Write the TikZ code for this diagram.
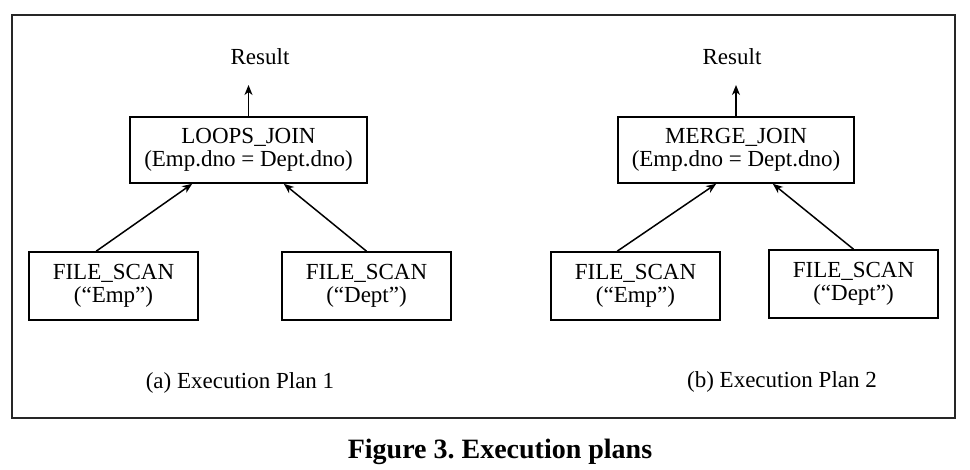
\documentclass[tikz,border=0pt]{standalone}
\usepackage{fontspec}
\setmainfont{Liberation Serif}
\usetikzlibrary{arrows.meta}
\frenchspacing
\begin{document}
\begin{tikzpicture}[x=1pt,y=-1pt,
  opbox/.style={draw=black,line width=1.6pt,minimum width=#1,minimum height=66pt,inner sep=0pt,align=center,font=\fontsize{23}{23}\selectfont},
  opbox/.default=169pt,
  lbl/.style={inner sep=0pt,font=\fontsize{23}{23}\selectfont},
  flow/.style={line width=1.5pt,-{Stealth[length=10pt,width=8pt,inset=3pt]}}]
\useasboundingbox (0,0) rectangle (970,470);
\node[draw=black!85,line width=1.8pt,minimum width=943pt,minimum height=403pt,inner sep=0pt] (frame) at (483.5,216.5) {};
% plan 1
\node[lbl] (res1) at (260,57) {Result};
\coordinate (tip1) at (248.5,85);
\node[opbox=237pt] (loops) at (248.5,150) {LOOPS\_JOIN\\(Emp.dno = Dept.dno)};
\node[opbox,minimum height=68pt] (fsa) at (113.5,286) {FILE\_SCAN\\(“Emp”)};
\node[opbox,minimum height=68pt] (fsb) at (366.5,286) {FILE\_SCAN\\(“Dept”)};
\draw[flow] (loops.north) -- (tip1);
\draw[flow] ([xshift=68pt]fsa.north west) -- ([xshift=63pt]loops.south west);
\draw[flow] (fsb.north) -- ([xshift=-84pt]loops.south east);
\node[lbl] (capa) at (240,383) {(a) Execution Plan 1};
% plan 2
\node[lbl] (res2) at (732,57) {Result};
\coordinate (tip2) at (736,85);
\node[opbox=236pt] (merge) at (736,150) {MERGE\_JOIN\\(Emp.dno = Dept.dno)};
\node[opbox,minimum height=68pt] (fsc) at (635.5,286) {FILE\_SCAN\\(“Emp”)};
\node[opbox,minimum height=68pt] (fsd) at (853.5,284) {FILE\_SCAN\\(“Dept”)};
\draw[flow] (merge.north) -- (tip2);
\draw[flow] ([xshift=67pt]fsc.north west) -- ([xshift=99pt]merge.south west);
\draw[flow] (fsd.north) -- ([xshift=-82pt]merge.south east);
\node[lbl] (capb) at (782,382) {(b) Execution Plan 2};
% figure caption
\node[inner sep=0pt,font=\fontsize{28}{28}\selectfont\bfseries] (fig) at (500,452) {Figure 3. Execution plans};
\end{tikzpicture}
\end{document}
